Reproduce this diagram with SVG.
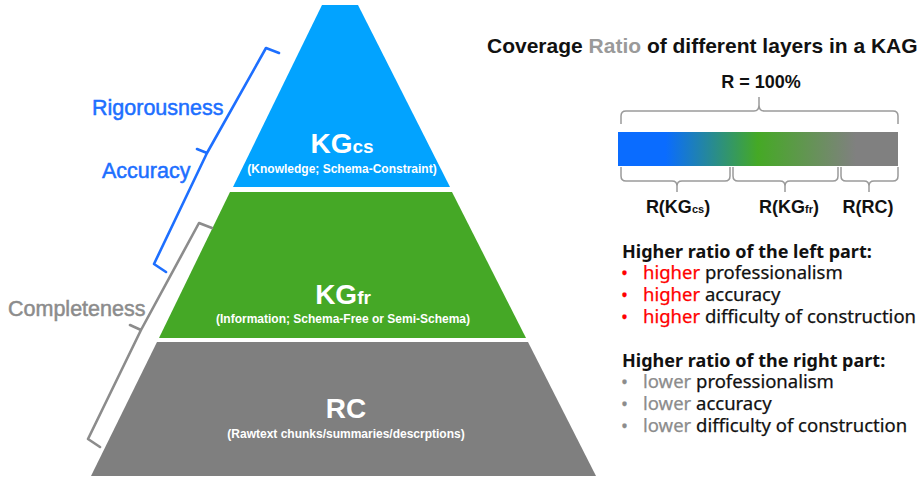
<svg xmlns="http://www.w3.org/2000/svg" width="918" height="480" viewBox="0 0 918 480">
<style>
.lbl{font-family:"Liberation Sans",Arial,sans-serif;}
.side{font-family:"Liberation Sans",Arial,sans-serif;font-size:21.5px;stroke-width:0.5;}
.big{font-family:"Liberation Sans",Arial,sans-serif;font-weight:bold;fill:#fff;text-anchor:middle;}
.sub{font-family:"Liberation Sans",Arial,sans-serif;font-weight:bold;fill:#fff;text-anchor:middle;font-size:12px;}
.br{fill:none;stroke-width:2.6;stroke-linejoin:round;stroke-linecap:round;}
.brace{fill:none;stroke:#9a9a9a;stroke-width:1.5;}
.rl{font-family:"Liberation Sans",Arial,sans-serif;font-weight:bold;font-size:18px;fill:#111;text-anchor:middle;}
.hd{font-family:"Noto Sans",sans-serif;font-weight:bold;font-size:18px;fill:#111;}
.it{font-family:"Noto Sans",sans-serif;font-size:18.5px;fill:#111;stroke:#111;stroke-width:0.25;}
.red{fill:#ff0000;stroke:#ff0000;}
.gr{fill:#8c8c8c;stroke:#8c8c8c;}
</style>
<defs>
<linearGradient id="cov" x1="0" y1="0" x2="1" y2="0">
<stop offset="0" stop-color="#0a6cff"/>
<stop offset="0.17" stop-color="#0a6cff"/>
<stop offset="0.5" stop-color="#45a925"/>
<stop offset="0.85" stop-color="#808080"/>
<stop offset="1" stop-color="#808080"/>
</linearGradient>
</defs>

<g id="layer-kgcs">
<polygon points="322,5 358,5 450,187 233,187" fill="#02a3ff"/>
<text class="big" x="342" y="153"><tspan font-size="28">KG</tspan><tspan font-size="19">cs</tspan></text>
<text class="sub" x="342" y="173">(Knowledge; Schema-Constraint)</text>
</g>
<g id="layer-kgfr">
<polygon points="230,192 452,192 526,338 159,338" fill="#45a826"/>
<text class="big" x="343" y="304"><tspan font-size="28">KG</tspan><tspan font-size="19">fr</tspan></text>
<text class="sub" x="343" y="323">(Information; Schema-Free or Semi-Schema)</text>
</g>
<g id="layer-rc">
<polygon points="157,342 528,342 596,476 91,476" fill="#7f7f7f"/>
<text class="big" x="346" y="418" font-size="28">RC</text>
<text class="sub" x="346" y="438">(Rawtext chunks/summaries/descrptions)</text>
</g>

<g id="connectors">
<path class="br" stroke="#1d6fff" d="M279,53 L266,48 L207,153 L197,149 M207,153 L154,264 L166,272"/>
<path class="br" stroke="#8c8c8c" d="M212,228 L199,223 L141,330 L130,325 M141,330 L88,439 L100,447"/>
<path class="brace" d="M621,124 L621,116 Q621,111 626,111 L754,111 Q759,111 759,105 L759,97 M759,105 Q759,111 764,111 L893,111 Q898,111 898,116 L898,124"/>
<path class="brace" d="M621,167 L621,176 Q621,181 626,181 L672,181 Q677,181 677,186 L677,192 M677,186 Q677,181 682,181 L725,181 Q730,181 730,176 L730,167"/>
<path class="brace" d="M733,167 L733,176 Q733,181 738,181 L780,181 Q785,181 785,186 L785,192 M785,186 Q785,181 790,181 L833,181 Q838,181 838,176 L838,167"/>
<path class="brace" d="M841,167 L841,176 Q841,181 846,181 L864,181 Q869,181 869,186 L869,192 M869,186 Q869,181 874,181 L893,181 Q898,181 898,176 L898,167"/>
</g>

<g id="side-labels">
<text class="side" x="92" y="115" fill="#1d6fff" stroke="#1d6fff">Rigorousness</text>
<text class="side" x="102" y="178" fill="#1d6fff" stroke="#1d6fff">Accuracy</text>
<text class="side" x="8" y="316" fill="#8c8c8c" stroke="#8c8c8c">Completeness</text>
</g>

<g id="coverage">
<text class="lbl" x="487" y="53" font-size="21" font-weight="bold" fill="#111">Coverage <tspan fill="#9a9a9a">Ratio</tspan> of different layers in a KAG</text>
<text class="rl" x="761" y="88" font-size="17.5">R = 100%</text>
<rect x="618" y="132" width="280" height="34" fill="url(#cov)"/>
<text class="rl" x="678" y="213">R(KG<tspan font-size="11">cs</tspan>)</text>
<text class="rl" x="789" y="213">R(KG<tspan font-size="11">fr</tspan>)</text>
<text class="rl" x="868" y="213">R(RC)</text>
</g>

<g id="left-part">
<text class="hd" x="622" y="258">Higher ratio of the left part:</text>
<text class="it" x="621" y="279"><tspan class="red">•</tspan><tspan x="643" class="red">higher</tspan> professionalism</text>
<text class="it" x="621" y="301"><tspan class="red">•</tspan><tspan x="643" class="red">higher</tspan> accuracy</text>
<text class="it" x="621" y="323"><tspan class="red">•</tspan><tspan x="643" class="red">higher</tspan> difficulty of construction</text>
</g>
<g id="right-part">
<text class="hd" x="622" y="367">Higher ratio of the right part:</text>
<text class="it" x="621" y="388"><tspan class="gr">•</tspan><tspan x="643" class="gr">lower</tspan> professionalism</text>
<text class="it" x="621" y="410"><tspan class="gr">•</tspan><tspan x="643" class="gr">lower</tspan> accuracy</text>
<text class="it" x="621" y="432"><tspan class="gr">•</tspan><tspan x="643" class="gr">lower</tspan> difficulty of construction</text>
</g>
</svg>
